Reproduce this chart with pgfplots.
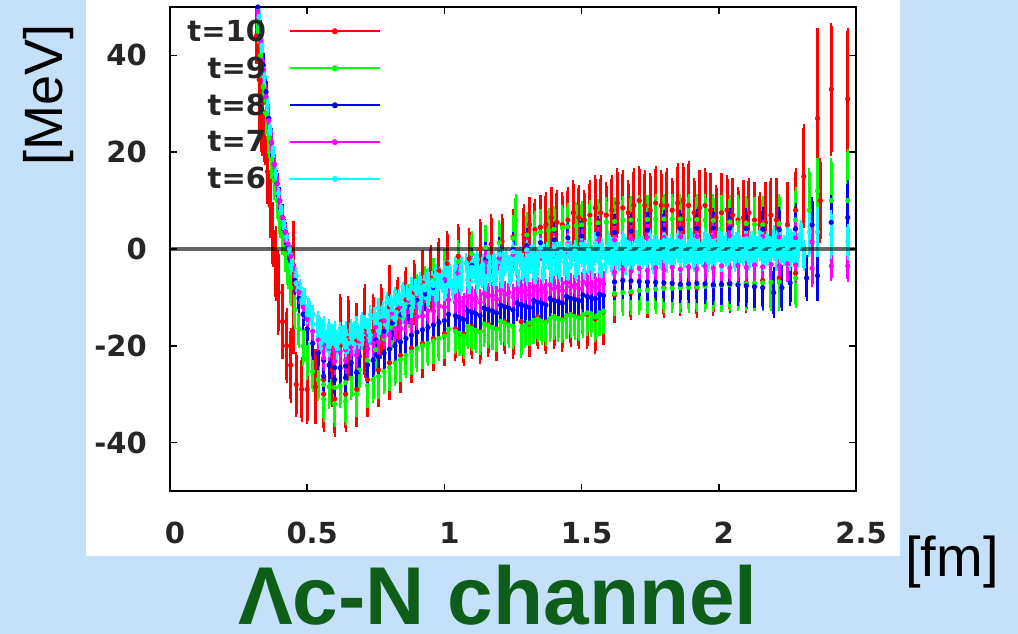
\documentclass[border=0pt]{standalone}
\usepackage{fontspec}
\setmainfont{DejaVu Sans}
\newfontfamily\libsans{Liberation Sans}
\usepackage{pgfplots}
\usepackage{pgfplotstable}
\pgfplotsset{compat=1.18}
\definecolor{bgblue}{RGB}{197,225,249}
\definecolor{titlegreen}{RGB}{14,94,26}
\definecolor{gred}{RGB}{255,0,0}
\definecolor{ggreen}{RGB}{0,255,0}
\definecolor{gblue}{RGB}{0,0,255}
\definecolor{gmagenta}{RGB}{255,0,255}
\definecolor{gcyan}{RGB}{0,255,255}
\newcommand\tickfont{\fontsize{29bp}{34bp}\selectfont\bfseries}

\pgfplotstableread{
r v e
0.315 44 5
0.325 35 12
0.335 30 10
0.345 23 5
0.355 16 6
0.365 9 6
0.375 3 6
0.385 -3 7
0.395 -9 8
0.41 -15 7
0.425 -20 7
0.44 -24 7
0.45 -8 13
0.46 -28 6
0.48 -29 6
0.50 -29 6.5
0.53 -28.5 7
0.56 -27 7
0.59 -25 7
0.62 -20 10
0.65 -18.5 8
0.68 -19 7
0.71 -17 9
0.74 -17 7
0.77 -15 7
0.80 -12 8
0.83 -12.5 6
0.86 -10.5 6
0.89 -9 6
0.92 -7 6
0.95 -6 6
0.98 -4.5 6
1.01 -3 6
1.05 -1.5 6
1.09 -2 5.5
1.13 0 5.5
1.17 1 5.5
1.21 1.5 5
1.25 2.5 5
1.29 3 5.5
1.33 4 5.5
1.37 5 6
1.41 5.5 6
1.45 6 6
1.49 6.5 6
1.53 7 6.5
1.57 7.5 7
1.61 8 6.5
1.65 8.5 7
1.69 9 7
1.73 9 6.5
1.77 9.5 7
1.81 9 7
1.85 9.5 7.5
1.89 9 8.5
1.93 8.5 7
1.97 8 7
2.01 7.5 7.5
2.05 7 7
2.09 6.5 7
2.13 6 7
2.17 5.5 7.5
2.21 6 8
2.25 5 8
2.28 8 8
2.31 15 10
2.36 27 18
2.37 10 8
2.41 33 13
2.47 31 14
1.31 5 5
1.35 4.5 6
1.39 6.5 5.5
1.43 5 6
1.47 7.5 6
1.51 6 5.5
1.55 8.5 6
1.59 7 6
1.63 9.5 6.5
1.67 7.5 6
1.71 10 6.5
1.75 8 7
1.79 9 6.5
1.83 8 6
1.87 10 7
1.91 7.5 6.5
1.95 9 7
1.99 6.5 6
2.03 8 6.5
2.07 6 6
2.11 7.5 6.5
2.15 5 6
2.19 7 7
0.56 -30 7
0.60 -31 7
0.64 -30 7
0.68 -29 7
0.72 -27 7
0.76 -25 7
0.80 -23.5 7
0.84 -22 7
0.88 -20.5 6.5
0.92 -19.5 6.5
0.96 -18.5 6
1.00 -17.5 6
1.04 -16.5 6
1.07 -17.5 6
1.10 -16 6
1.13 -17 6
1.16 -15.5 6
1.19 -16.5 6
1.22 -15 6
1.25 -16 6
1.28 -15 6
1.31 -15.5 6
1.34 -14 6
1.37 -15 6
1.40 -14 6
1.43 -14.5 6
1.46 -13.5 6
1.49 -14 6
1.52 -13.5 6.5
1.55 -14.5 6.5
1.58 -13 6
1.62 -9.5 5
1.68 -9 5
1.74 -8.5 5
1.80 -8 5.5
1.86 -7.5 5.5
1.92 -8 5.5
1.98 -7.5 5.5
2.04 -7 5.5
2.10 -7 5.5
2.16 -6.5 5.5
2.22 -6 6
2.28 -5 6
}\tten

\pgfplotstableread{
r v e
0.32 47 4
0.33 40 4
0.34 33.5 3.8
0.35 28 3.6
0.36 23 3.4
0.37 18.5 3.3
0.38 14 3.2
0.39 10 3.1
0.40 6 3
0.41 2.5 3
0.42 -1 3
0.43 -4.5 3
0.44 -8 3.1
0.455 -12.5 3.2
0.47 -16.5 3.3
0.485 -20 3.4
0.50 -22.8 3.5
0.52 -25.3 3.6
0.54 -27 3.7
0.56 -28 3.8
0.58 -28.5 3.8
0.60 -28.6 3.8
0.62 -28.3 3.8
0.64 -27.6 3.8
0.66 -26.7 3.8
0.69 -25 3.8
0.72 -23 3.8
0.75 -20.8 3.8
0.78 -18.5 3.8
0.81 -16.2 3.8
0.84 -13.9 3.8
0.87 -11.8 3.8
0.90 -9.8 3.8
0.93 -8 3.8
0.96 -6.4 3.8
1.00 -4.5 3.8
1.05 -2.6 3.8
1.10 -1 3.9
1.15 0.3 3.9
1.20 1.3 3.9
1.25 2.2 4
1.26 6 4.6
1.30 2.9 4
1.35 3.5 4
1.40 4.1 4.1
1.45 4.6 4.1
1.50 5.0 4.2
1.56 5.4 4.2
1.62 5.7 4.3
1.68 6.0 4.3
1.74 6.1 4.4
1.80 6.2 4.5
1.86 6.2 4.5
1.92 6.1 4.6
1.98 5.9 4.7
2.04 5.6 4.8
2.10 5.3 5
2.16 5.0 5.2
2.22 5.2 5.5
2.28 6 6
2.33 8 8
2.36 12 6
2.41 10 8
2.47 10 10
1.33 3.2 4
1.38 3.8 4
1.43 4.4 4
1.48 4.8 4.2
1.53 5.2 4.2
1.59 5.6 4.3
1.65 5.9 4.3
1.71 6 4.4
1.77 6.2 4.5
1.83 6.2 4.5
1.89 6.1 4.6
1.95 6 4.6
2.01 5.7 4.8
2.07 5.4 5
2.13 5.1 5
0.56 -31 4
0.60 -32 4
0.64 -31.5 4.2
0.68 -30 4
0.72 -28.2 4
0.76 -26.3 4
0.80 -24.5 4
0.84 -22.8 4
0.88 -21.3 4
0.92 -20 4
0.96 -19 4
1.00 -18 4
1.04 -17 4
1.07 -18 4
1.10 -16.4 4
1.13 -17.2 4
1.16 -15.8 4
1.19 -16.6 4
1.22 -15.3 4
1.25 -16 4
1.28 -16.8 5
1.31 -15.3 4
1.34 -14.5 4
1.37 -15.2 4
1.40 -14 4
1.43 -14.7 4
1.46 -13.6 4
1.49 -14.3 4
1.52 -13.2 4
1.55 -14 4.5
1.58 -12.8 4
1.62 -9.2 4
1.68 -8.8 4.1
1.74 -8.5 4.2
1.80 -8.2 4.3
1.86 -8 4.4
1.92 -7.8 4.5
1.98 -7.6 4.6
2.04 -7.4 4.7
2.10 -7.2 4.8
2.16 -7 5
2.22 -6.8 5.3
2.28 -6 5.5
0.74 -27 4
0.78 -25.3 4
0.82 -23.6 4
0.86 -22 4
0.90 -20.6 4
0.94 -19.5 4
0.98 -18.5 4
1.015 -16.6 4
1.055 -17.4 4
1.085 -16 4
1.115 -16.8 4
1.145 -15.5 4
1.175 -16.2 4
1.205 -15 4
1.235 -15.7 4
1.295 -15.8 4
1.325 -14.8 4
1.355 -15 4
1.385 -14.4 4
1.415 -14.4 4
1.445 -13.8 4
1.475 -14 4
1.505 -13.6 4
1.535 -13.4 4
1.565 -13.2 4
1.65 -9 4.1
1.71 -8.6 4.2
1.77 -8.3 4.3
1.83 -8.1 4.4
1.89 -7.9 4.5
1.95 -7.7 4.6
2.01 -7.5 4.7
2.07 -7.3 4.8
2.13 -7.1 5
2.19 -6.9 5.2
}\tnine

\pgfplotstableread{
r v e
0.32 50 2.5
0.33 44 2.5
0.34 38 2.4
0.35 32.5 2.3
0.36 27 2.2
0.37 22 2.2
0.38 17.5 2.1
0.39 13.5 2.1
0.40 10 2
0.41 6.5 2
0.42 3.5 2
0.43 0.5 2
0.44 -2.5 2.1
0.455 -6.5 2.2
0.47 -10.2 2.3
0.485 -13.5 2.4
0.50 -16.5 2.5
0.52 -19.5 2.6
0.54 -21.5 2.7
0.56 -23 2.8
0.58 -24 2.8
0.60 -24.5 2.8
0.62 -24.6 2.8
0.64 -24.2 2.8
0.66 -23.5 2.8
0.69 -22.2 2.8
0.72 -20.6 2.8
0.75 -18.8 2.8
0.78 -17 2.8
0.81 -15.3 2.8
0.84 -13.6 2.8
0.87 -12 2.8
0.90 -10.6 2.8
0.93 -9.3 2.8
0.96 -8 2.8
1.00 -6.5 2.8
1.05 -4.9 2.8
1.10 -3.4 2.8
1.15 -2.1 2.8
1.20 -1 2.8
1.25 -0.1 2.8
1.30 0.7 2.8
1.35 1.3 2.9
1.40 1.9 2.9
1.45 2.3 2.9
1.50 2.7 3
1.56 3.1 3
1.62 3.4 3
1.68 3.7 3.1
1.74 3.9 3.1
1.80 4.1 3.2
1.86 4.2 3.2
1.92 4.3 3.3
1.98 4.3 3.4
2.04 4.3 3.5
2.10 4.2 3.6
2.16 4.1 3.8
2.22 4.0 4
2.28 4.2 4.5
2.34 5 5
2.41 5.5 5
2.47 6.5 7
0.56 -26.3 3
0.60 -27 3
0.64 -26.6 3
0.68 -25.5 3
0.72 -24 3
0.76 -22.3 3
0.80 -20.7 3
0.84 -19.2 3
0.88 -17.8 3
0.92 -16.7 3
0.96 -15.7 3
1.00 -14.8 3
1.04 -13.8 3
1.07 -14.6 3
1.10 -13.1 3
1.13 -13.8 3
1.16 -12.5 3
1.19 -13.2 3
1.22 -12 3
1.25 -12.6 3
1.28 -11.5 3
1.31 -12.1 3
1.34 -11 3
1.37 -11.6 3
1.40 -10.6 3
1.43 -11.2 3
1.46 -10.2 3
1.49 -10.7 3
1.52 -9.8 3
1.55 -10.3 3
1.58 -9.6 3
1.62 -6.8 3
1.68 -6.6 3.1
1.74 -6.8 3.1
1.80 -7 3.2
1.86 -7.3 3.2
1.92 -7.1 3.3
1.98 -7.4 3.4
2.04 -7.2 3.5
2.10 -7.6 3.6
2.16 -8 3.8
2.20 -9 4.5
2.26 -7 4
2.32 -6 4
2.36 -5.5 4.5
0.74 -23 3
0.78 -21.5 3
0.82 -20 3
0.86 -18.5 3
0.90 -17.2 3
0.94 -16.2 3
0.98 -15.2 3
1.015 -13.5 3
1.055 -14.2 3
1.085 -12.8 3
1.115 -13.4 3
1.145 -12.2 3
1.175 -12.8 3
1.205 -11.6 3
1.235 -12.2 3
1.265 -11.1 3
1.295 -11.7 3
1.325 -10.6 3
1.355 -11.2 3
1.385 -10.2 3
1.415 -10.8 3
1.445 -9.8 3
1.475 -10.4 3
1.505 -9.5 3
1.535 -10 3
1.565 -9.3 3
1.65 -6.5 3.1
1.71 -6.7 3.1
1.77 -6.9 3.2
1.83 -7.1 3.2
1.89 -7.2 3.3
1.95 -7.2 3.4
2.01 -7.3 3.5
2.07 -7.4 3.6
2.13 -7.8 3.7
2.23 -8 4
}\teight

\pgfplotstableread{
r v e
0.32 49 2
0.33 43 2
0.34 37 2
0.35 31.5 1.8
0.36 26.5 1.8
0.37 22 1.7
0.38 17.5 1.7
0.39 13.5 1.6
0.40 10 1.6
0.41 6.5 1.6
0.42 3.5 1.6
0.43 1 1.6
0.44 -1.5 1.6
0.455 -5.5 1.7
0.47 -9 1.7
0.485 -12 1.8
0.50 -14.5 1.8
0.52 -17 1.9
0.54 -18.8 1.9
0.56 -19.8 2
0.58 -20.5 2
0.60 -21 2
0.62 -21.2 2
0.64 -20.8 2
0.66 -20.2 2
0.69 -19 2
0.72 -17.6 2
0.75 -16.2 2
0.78 -14.8 2
0.81 -13.3 2
0.84 -11.9 2
0.87 -10.6 2
0.90 -9.5 2
0.93 -8.5 2
0.96 -7.6 2
1.00 -6.3 2
1.05 -5 2
1.10 -3.8 2
1.15 -2.8 2
1.20 -1.9 2
1.25 -1.1 2
1.30 -0.4 2
1.35 0.2 2
1.40 0.6 2
1.45 1.0 2
1.50 1.3 2.1
1.56 1.6 2.1
1.62 1.9 2.1
1.68 2.1 2.2
1.74 2.3 2.2
1.80 2.4 2.2
1.86 2.5 2.3
1.92 2.6 2.3
1.98 2.6 2.4
2.04 2.7 2.4
2.10 2.7 2.5
2.16 2.6 2.6
2.22 2.5 2.8
2.28 2.3 3
2.34 1.5 3.5
2.41 -3.5 2.4
2.47 -3.5 2.6
0.56 -22.5 2
0.60 -23.2 2
0.64 -23 2
0.68 -22 2
0.72 -20.6 2
0.76 -19.2 2
0.80 -17.8 2
0.84 -16.4 2
0.88 -15 2
0.92 -13.8 2
0.96 -12.8 2
1.00 -12 2
1.04 -11 2
1.07 -11.8 2
1.10 -10.4 2
1.13 -11 2
1.16 -9.8 2
1.19 -10.4 2
1.22 -9.4 2
1.25 -9.9 2
1.28 -9 2
1.31 -9.5 2
1.34 -8.6 2
1.37 -9 2
1.40 -8.2 2
1.43 -8.6 2
1.46 -7.8 2
1.49 -8.2 2
1.52 -7.4 2
1.55 -7.8 2
1.58 -7.2 2
1.62 -4.8 2
1.68 -4.6 2.1
1.74 -4.4 2.1
1.80 -4.3 2.2
1.86 -4.2 2.2
1.92 -4.1 2.3
1.98 -4.0 2.3
2.04 -3.9 2.4
2.10 -3.8 2.5
2.16 -3.7 2.6
2.22 -3.5 2.8
2.28 -3.3 3
2.34 -4 3.2
0.74 -19.5 2
0.78 -18 2
0.82 -16.5 2
0.86 -15.2 2
0.90 -14 2
0.94 -12.8 2
0.98 -11.8 2
1.015 -10.5 2
1.055 -10.8 2
1.085 -9.8 2
1.115 -10.2 2
1.145 -9.2 2
1.175 -9.6 2
1.205 -8.6 2
1.235 -9 2
1.265 -8.2 2
1.295 -8.6 2
1.325 -7.8 2
1.355 -8.2 2
1.385 -7.4 2
1.415 -7.8 2
1.445 -7.0 2
1.475 -7.4 2
1.505 -6.8 2
1.535 -7.1 2
1.565 -6.5 2
1.65 -4.2 2.1
1.71 -4.0 2.1
1.77 -3.9 2.2
1.83 -3.8 2.2
1.89 -3.7 2.3
1.95 -3.6 2.3
2.01 -3.5 2.4
2.07 -3.4 2.5
2.13 -3.3 2.6
2.19 -3.2 2.7
2.25 -3.1 2.9
}\tseven

\pgfplotstableread{
r v e
0.325 48 1.5
0.335 42 1.5
0.345 35.5 1.4
0.355 29.5 1.3
0.365 24.5 1.2
0.375 20 1.2
0.385 15.5 1.1
0.395 11.5 1.1
0.405 8 1.0
0.415 5 1.0
0.425 2.5 1.0
0.435 0 1.0
0.445 -2.5 1.0
0.46 -5.5 1.0
0.475 -8 1.0
0.49 -10 1.1
0.505 -12 1.1
0.52 -13.5 1.2
0.54 -14.8 1.2
0.56 -15.8 1.3
0.58 -16.5 1.3
0.60 -17 1.3
0.62 -17.2 1.3
0.64 -17 1.3
0.66 -16.6 1.3
0.68 -15.8 1.3
0.70 -15 1.3
0.73 -13.6 1.3
0.76 -12.2 1.3
0.79 -11 1.3
0.82 -9.8 1.3
0.85 -8.8 1.3
0.88 -7.8 1.3
0.91 -6.8 1.3
0.94 -6 1.3
0.97 -5.2 1.3
1.00 -4.5 1.3
1.04 -3.6 1.3
1.08 -2.9 1.3
1.12 -2.2 1.3
1.16 -1.6 1.3
1.20 -1.1 1.3
1.25 -0.6 1.4
1.30 -0.2 1.4
1.35 0.2 1.4
1.40 0.5 1.4
1.45 0.8 1.5
1.50 1.0 1.5
1.55 1.2 1.5
1.60 1.4 1.5
1.65 1.5 1.5
1.70 1.6 1.5
1.75 1.7 1.6
1.80 1.8 1.6
1.85 1.8 1.6
1.90 1.9 1.7
1.95 1.9 1.7
2.00 2.0 1.7
2.05 2.0 1.8
2.10 2.1 1.8
2.15 2.1 1.9
2.20 2.2 2.0
2.25 2.3 2.2
2.30 2.8 2.5
2.33 3.5 4.5
2.36 3.5 4.5
2.41 3 4.3
2.47 1.5 3
0.51 -13 1.5
0.55 -16.3 1.5
0.59 -17.8 1.5
0.63 -18 1.5
0.67 -17.2 1.5
0.71 -15.8 1.5
0.745 -14.3 1.5
0.775 -13 1.5
0.805 -11.6 1.5
0.835 -10.5 1.5
0.865 -9.5 1.5
0.895 -8.5 1.5
0.925 -7.6 1.5
0.955 -6.8 1.5
0.985 -6 1.5
1.02 -5.3 1.5
1.06 -4.5 1.5
1.10 -3.8 1.5
1.14 -3.2 1.5
1.18 -2.6 1.5
1.225 -2.1 1.5
1.275 -1.6 1.5
1.325 -1.2 1.5
1.375 -0.9 1.5
1.425 -0.6 1.5
1.475 -0.4 1.5
1.525 -0.2 1.5
1.575 0 1.5
1.625 0.2 1.6
1.675 0.3 1.6
1.725 0.4 1.6
1.775 0.5 1.6
1.825 0.6 1.7
1.875 0.7 1.7
1.925 0.8 1.7
1.975 0.8 1.8
2.025 0.9 1.8
2.075 1 1.8
2.125 1 1.9
2.175 1.1 1.9
2.225 1.2 2
2.275 1.3 2.2
0.44 -3.5 1.2
0.46 -7 1.2
0.48 -10.5 1.2
0.50 -13.5 1.3
0.52 -15.5 1.3
0.54 -17 1.3
0.56 -17.8 1.3
0.58 -18.5 1.3
0.60 -18.8 1.3
0.62 -19 1.3
0.64 -18.8 1.3
0.66 -18.3 1.3
0.68 -17.7 1.3
0.70 -17 1.3
0.72 -16.2 1.3
0.75 -15 1.3
0.78 -13.8 1.3
0.81 -12.5 1.3
0.84 -11.3 1.3
0.87 -10.2 1.3
0.90 -9.2 1.3
0.93 -8.4 1.3
0.96 -7.6 1.3
0.99 -6.9 1.3
1.02 -6.3 1.3
1.06 -5.6 1.3
1.10 -5 1.3
1.14 -4.4 1.3
1.18 -3.9 1.3
1.22 -3.5 1.4
1.26 -3.1 1.4
1.30 -2.8 1.4
1.34 -2.5 1.4
1.38 -2.2 1.4
1.42 -2 1.4
1.46 -1.8 1.5
1.50 -1.5 1.5
1.55 -1.3 1.5
1.60 -1.1 1.5
1.65 -1 1.5
1.70 -0.8 1.5
1.75 -0.7 1.5
1.80 -0.6 1.6
1.85 -0.5 1.6
1.90 -0.4 1.6
1.95 -0.3 1.6
2.00 -0.2 1.7
2.05 -0.1 1.7
2.10 0 1.8
2.15 0 1.8
2.20 0.1 1.9
2.25 0.2 2
2.29 0.3 2.2
0.57 -19 1.5
0.61 -19.7 1.5
0.65 -19.5 1.5
0.69 -18.4 1.5
0.725 -17.1 1.5
0.765 -15.6 1.5
0.795 -14.3 1.5
0.825 -13.1 1.5
0.855 -12 1.5
0.885 -10.9 1.5
0.915 -10 1.5
0.945 -9.2 1.5
0.975 -8.4 1.5
1.005 -7.7 1.5
1.045 -6.8 1.5
1.085 -6.3 1.5
1.125 -5.7 1.5
1.165 -5.4 1.5
1.205 -5 1.5
1.245 -4.6 1.5
1.285 -4.2 1.5
1.325 -4 1.5
1.365 -3.7 1.5
1.405 -3.4 1.5
1.445 -3.3 1.5
1.485 -3 1.5
1.525 -2.9 1.5
1.565 -2.7 1.5
1.625 -2 1.6
1.675 -1.9 1.6
1.725 -1.8 1.6
1.775 -1.7 1.6
1.825 -1.6 1.7
1.875 -1.5 1.7
1.925 -1.4 1.7
1.975 -1.3 1.8
2.025 -1.2 1.8
2.075 -1.1 1.8
2.125 -1 1.9
2.175 -0.9 1.9
2.225 -0.8 2
2.275 -0.6 2.2
0.55 -19.5 1.3
0.58 -20.2 1.3
0.61 -20.6 1.3
0.64 -20.3 1.3
0.67 -19.6 1.3
0.70 -18.8 1.3
0.73 -17.8 1.3
0.76 -16.9 1.3
0.79 -15.8 1.3
0.82 -14.6 1.3
0.85 -13.4 1.3
0.88 -12.3 1.3
0.91 -11.3 1.3
0.94 -10.4 1.3
0.97 -9.6 1.3
1.00 -8.8 1.3
1.03 -8.4 1.3
1.06 -7.6 1.3
1.09 -8 1.3
1.12 -7 1.3
1.15 -7.3 1.3
1.18 -6.4 1.3
1.21 -6.8 1.4
1.24 -5.8 1.4
1.27 -6.2 1.4
1.30 -5.4 1.4
1.33 -5.8 1.4
1.36 -5 1.4
1.39 -5.4 1.4
1.42 -4.7 1.4
1.45 -5 1.5
1.48 -4.4 1.5
1.51 -4.7 1.5
1.54 -4.2 1.5
1.57 -4.4 1.5
1.61 -3.3 1.5
1.66 -3.1 1.5
1.71 -2.9 1.5
1.76 -2.8 1.6
1.81 -2.7 1.6
1.86 -2.6 1.6
1.91 -2.5 1.6
1.96 -2.4 1.7
2.01 -2.3 1.7
2.06 -2.2 1.8
2.11 -2.1 1.8
2.16 -2.0 1.9
2.21 -1.8 2
2.26 -1.6 2.2
2.31 -1.4 2.5
1.0125 -5.2 2.2
1.0375 -6.4 2.2
1.0625 -4.6 2.2
1.0875 -5.8 2.2
1.1125 -4.0 2.2
1.1375 -5.2 2.2
1.1625 -3.5 2.2
1.1875 -4.6 2.2
1.2125 -3.0 2.2
1.2375 -4.2 2.2
1.2625 -2.6 2.2
1.2875 -3.8 2.2
1.3125 -2.2 2.2
1.3375 -3.4 2.2
1.3625 -1.9 2.2
1.3875 -3.0 2.2
1.4125 -1.6 2.2
1.4375 -2.7 2.2
1.4625 -1.3 2.2
1.4875 -2.4 2.2
1.5125 -1.0 2.2
1.5375 -2.2 2.2
1.5625 -0.8 2.2
1.5875 -2.0 2.2
1.6125 -0.5 2.2
1.6375 -1.6 2.2
1.6625 -0.4 2.2
1.6875 -1.4 2.2
1.7125 -0.2 2.2
1.7375 -1.2 2.2
1.7625 -0.1 2.2
1.7875 -1.1 2.2
1.8125 0 2.2
1.8375 -1.0 2.2
1.8625 0.1 2.2
1.8875 -0.9 2.2
1.9125 0.2 2.2
1.9375 -0.8 2.2
1.9625 0.3 2.2
1.9875 -0.7 2.2
2.0125 0.4 2.3
2.0375 -0.6 2.3
2.0625 0.5 2.3
2.0875 -0.5 2.3
2.1125 0.5 2.4
2.1375 -0.5 2.4
2.1625 0.6 2.4
2.1875 -0.4 2.4
2.2125 0.7 2.5
2.2375 -0.3 2.5
2.2625 0.8 2.6
2.2875 -0.2 2.7
}\tsix

\pgfplotsset{
  errstyle/.style={only marks, mark=*, mark size=2.2bp,
    mark options={solid, line width=0.8bp},
    error bars/y dir=both, error bars/y explicit,
    error bars/error bar style={line width=3bp, solid},
    error bars/error mark options={line width=2.2bp, mark size=3.6bp}},
}

\begin{document}
\begin{tikzpicture}
\useasboundingbox (0,0) rectangle (1018bp,634bp);
\fill[bgblue] (0,0) rectangle (1018bp,634bp);
\fill[white] (86bp,78bp) rectangle (900bp,634bp);
\begin{axis}[
  at={(170bp,143bp)}, anchor=south west,
  scale only axis, width=686bp, height=484bp,
  xmin=0, xmax=2.5, ymin=-50, ymax=50,
  xtick={0,0.5,1,1.5,2,2.5},
  ytick={-40,-20,0,20,40},
  axis line style={line width=2.5bp, black},
  every tick/.style={black, line width=1.5bp},
  major tick length=7bp, tick align=inside,
  /pgf/number format/assume math mode=true,
  tick label style={font=\tickfont, text=black!85},
  xticklabel style={inner sep=0pt, anchor=north, yshift=-31bp, xshift=5bp},
  yticklabel style={inner sep=0pt, anchor=east, xshift=-23bp},
  legend plot pos=right,
  legend cell align=right,
  legend image code/.code={
    \draw[line width=1.8bp, solid] (0bp,0bp) -- (90bp,0bp);
    \fill (45bp,0bp) circle (2.8bp);
  },
  legend style={draw=none, fill=none, font=\tickfont, text=black!85,
    at={(axis description cs:0.3076,0.974)}, anchor=north east,
    inner sep=0pt, row sep=14bp,
    nodes={inner sep=0pt},
    /tikz/every odd column/.append style={column sep=23bp}},
]
\addplot[errstyle, color=gred] table[x=r, y=v, y error=e] {\tten};
\addlegendentry{t=10}
\addplot[errstyle, color=ggreen] table[x=r, y=v, y error=e] {\tnine};
\addlegendentry{t=9}
\addplot[errstyle, color=gblue] table[x=r, y=v, y error=e] {\teight};
\addlegendentry{t=8}
\addplot[errstyle, color=gmagenta] table[x=r, y=v, y error=e] {\tseven};
\addlegendentry{t=7}
\addplot[errstyle, color=gcyan, error bars/error bar style={line width=3.6bp}] table[x=r, y=v, y error=e] {\tsix};
\addlegendentry{t=6}
\draw[line width=3.5bp, black, opacity=0.6] (axis cs:0,0) -- (axis cs:2.5,0);
\end{axis}
\node[inner sep=0pt, rotate=90, font=\libsans\fontsize{54bp}{60bp}\selectfont] at (49bp,539bp) {[MeV]};
\node[inner sep=0pt, font=\libsans\fontsize{56bp}{62bp}\selectfont] at (952bp,72bp) {[fm]};
\node[inner sep=0pt, anchor=base, text=titlegreen, font=\libsans\bfseries\fontsize{82bp}{90bp}\selectfont] at (498bp,10bp) {Λc-N channel};
\end{tikzpicture}
\end{document}
